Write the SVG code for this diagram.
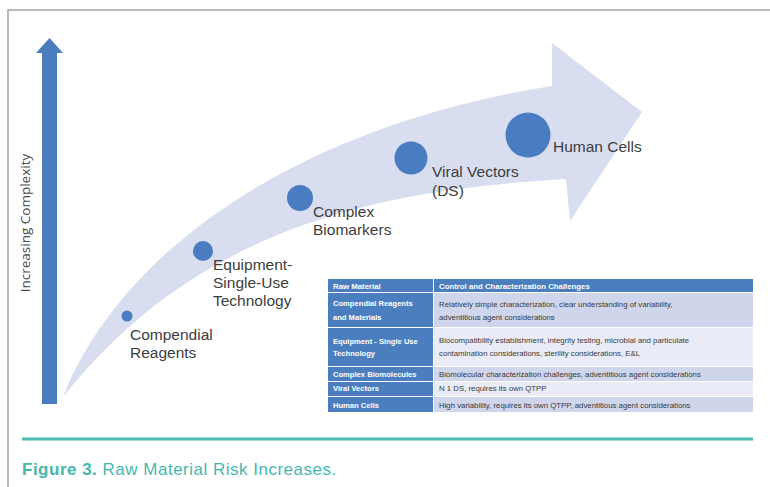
<svg xmlns="http://www.w3.org/2000/svg" width="770" height="487" viewBox="0 0 770 487">
  <style>
    .label { font-family: "Liberation Sans", Arial, sans-serif; font-size: 15.5px; fill: #3d3d3d; }
    .axis { font-family: "Open Sans", "Liberation Sans", sans-serif; font-size: 13.5px; fill: #4a4a4a; }
    .dot { fill: #4a7cc2; }
    .th { font-family: "Liberation Sans", Arial, sans-serif; font-size: 7.8px; font-weight: bold; fill: #ffffff; }
    .tc1 { font-family: "Liberation Sans", Arial, sans-serif; font-size: 7.6px; font-weight: bold; fill: #ffffff; }
    .tc2 { font-family: "Liberation Sans", Arial, sans-serif; font-size: 7.8px; fill: #3a3a3a; }
    .blue { fill: #4a7ebf; }
    .dark { fill: #cfd5ea; }
    .light { fill: #e9ecf6; }
    .caption { font-family: "Liberation Sans", Arial, sans-serif; font-size: 17px; letter-spacing: 0.5px; fill: #45b8ad; }
  </style>

  <rect width="770" height="487" fill="#ffffff"/>

  <!-- page frame -->
  <path d="M8 487 V10 H770" fill="none" stroke="#a3a3a3" stroke-width="1.5"/>

  <!-- vertical complexity axis -->
  <g id="axis">
    <rect x="42" y="52" width="15" height="352" fill="#4a7dc0"/>
    <polygon points="49.5,38 63,53 36,53" fill="#4a7dc0"/>
    <text class="axis" transform="translate(30,223) rotate(-90)" text-anchor="middle">Increasing Complexity</text>
  </g>

  <!-- curved progression arrow -->
  <g id="connectors">
    <path d="M63 397 C130 230 330 120 552 86 L552 43 L642 112 L570 221 L566 179 C380 190 200 225 63 397 Z" fill="#d8ddf0"/>
  </g>

  <g id="compendial">
    <circle class="dot" cx="127" cy="316" r="5.5"/>
    <text class="label" x="130" y="340">Compendial</text>
    <text class="label" x="130" y="358">Reagents</text>
  </g>

  <g id="equipment">
    <circle class="dot" cx="203" cy="251" r="10"/>
    <text class="label" x="213" y="270">Equipment-</text>
    <text class="label" x="213" y="288">Single-Use</text>
    <text class="label" x="213" y="306">Technology</text>
  </g>

  <g id="biomarkers">
    <circle class="dot" cx="300" cy="198" r="13"/>
    <text class="label" x="313" y="217">Complex</text>
    <text class="label" x="313" y="235">Biomarkers</text>
  </g>

  <g id="viral-vectors">
    <circle class="dot" cx="411" cy="158" r="16.5"/>
    <text class="label" x="432" y="177">Viral Vectors</text>
    <text class="label" x="432" y="196">(DS)</text>
  </g>

  <g id="human-cells">
    <circle class="dot" cx="528" cy="135" r="22.5"/>
    <text class="label" x="553" y="152">Human Cells</text>
  </g>

  <!-- challenges table -->
  <g id="table">
    <rect class="blue" x="328" y="279" width="425" height="13"/>
    <rect class="blue" x="328" y="293" width="105" height="34"/>
    <rect class="dark" x="434" y="293" width="319" height="34"/>
    <rect class="blue" x="328" y="328" width="105" height="38"/>
    <rect class="light" x="434" y="328" width="319" height="38"/>
    <rect class="blue" x="328" y="367" width="105" height="14"/>
    <rect class="dark" x="434" y="367" width="319" height="14"/>
    <rect class="blue" x="328" y="382" width="105" height="14"/>
    <rect class="light" x="434" y="382" width="319" height="14"/>
    <rect class="blue" x="328" y="397" width="105" height="15"/>
    <rect class="dark" x="434" y="397" width="319" height="15"/>
    <line x1="433.5" y1="279" x2="433.5" y2="292" stroke="#ffffff" stroke-width="1"/>

    <text class="th" x="333" y="289">Raw Material</text>
    <text class="th" x="439" y="289">Control and Characterization Challenges</text>

    <text class="tc1" x="333" y="306">Compendial Reagents</text>
    <text class="tc1" x="333" y="320">and Materials</text>
    <text class="tc2" x="439" y="307">Relatively simple characterization, clear understanding of variability,</text>
    <text class="tc2" x="439" y="320">adventitious agent considerations</text>

    <text class="tc1" x="333" y="344">Equipment - Single Use</text>
    <text class="tc1" x="333" y="356">Technology</text>
    <text class="tc2" x="439" y="343">Biocompatibility establishment, integrity testing, microbial and particulate</text>
    <text class="tc2" x="439" y="356">contamination considerations, sterility considerations, E&amp;L</text>

    <text class="tc1" x="333" y="377">Complex Biomolecules</text>
    <text class="tc2" x="439" y="377">Biomolecular characterization challenges, adventitious agent considerations</text>

    <text class="tc1" x="333" y="391">Viral Vectors</text>
    <text class="tc2" x="439" y="391">N 1 DS, requires its own QTPP</text>

    <text class="tc1" x="333" y="408">Human Cells</text>
    <text class="tc2" x="439" y="408">High variability, requires its own QTPP, adventitious agent considerations</text>
  </g>

  <!-- caption -->
  <line x1="22" y1="439" x2="753" y2="439" stroke="#4dbcb0" stroke-width="3"/>
  <text class="caption" x="22" y="475"><tspan font-weight="bold">Figure 3.</tspan> Raw Material Risk Increases.</text>
</svg>
